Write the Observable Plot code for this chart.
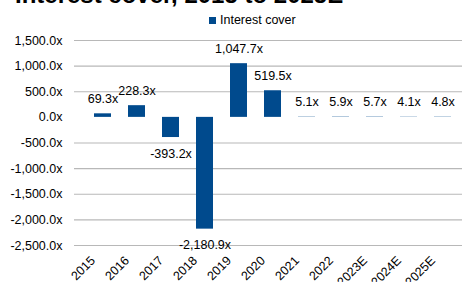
<!DOCTYPE html>
<html><head><meta charset="utf-8">
<script src="https://cdn.jsdelivr.net/npm/d3@7"></script>
<script src="https://cdn.jsdelivr.net/npm/@observablehq/plot@0.6"></script>
<style>
body{margin:0;background:#fff;font-family:"Liberation Sans",Arial,sans-serif;}
#wrap{position:relative;width:462px;height:282px;overflow:hidden;background:#fff;}
#title{position:absolute;left:15px;top:-17px;font-size:24px;font-weight:bold;line-height:24px;white-space:nowrap;color:#000;}
#legend{position:absolute;left:209px;top:13px;font-size:12.5px;line-height:14px;display:flex;align-items:center;color:#000;white-space:nowrap;}
#legend .sw{width:7px;height:7px;background:#004a8d;margin-right:4px;display:inline-block;}
#chart{position:absolute;left:0;top:0;width:470px;}
#chart svg{max-width:none !important;width:470px;height:282px;}
</style></head><body>
<div id="wrap"><div id="chart"></div><div id="title">Interest cover, 2015 to 2025E</div><div id="legend"><span class="sw"></span><span id="lg"></span></div></div>
<script>
const years = ["2015","2016","2017","2018","2019","2020","2021","2022","2023E","2024E","2025E"];
const cover = [69.3, 228.3, -393.2, -2180.9, 1047.7, 519.5, 5.1, 5.9, 5.7, 4.1, 4.8];
const yTicks = [-2500, -2000, -1500, -1000, -500, 0, 500, 1000, 1500];
const seriesName = "Interest cover";

document.getElementById("lg").textContent = seriesName;
const data = years.map((year, i) => ({year, value: cover[i]}));
const loc = d3.formatLocale({decimal: ".", thousands: ",", grouping: [3], currency: ["", ""], minus: "-"});
const fmt = v => loc.format(",.1f")(v) + "x";
const chart = Plot.plot({
  width: 470, height: 282,
  marginTop: 40, marginBottom: 37, marginLeft: 74, marginRight: 0,
  style: {fontFamily: "'Liberation Sans', Arial, sans-serif", fontSize: "12.5px", color: "#000", background: "transparent", overflow: "visible", maxWidth: "none"},
  x: {domain: years, padding: 0.5, label: null},
  y: {domain: [-2500, 1500], label: null},
  marks: [
    Plot.ruleY(yTicks.filter(t => t !== 0), {stroke: "#b8b8b8", strokeWidth: 1.2}),
    Plot.barY(data, {x: "year", y: "value", fill: "#004a8d"}),
    Plot.text(data.filter(d => d.value >= 0), {x: "year", y: "value", text: d => fmt(d.value), dy: -15, fill: "#000"}),
    Plot.text(data.filter(d => d.value < 0), {x: "year", y: "value", text: d => fmt(d.value), dy: 16, fill: "#000"}),
    Plot.axisY({ticks: yTicks, tickSize: 0, tickFormat: fmt, tickPadding: 12, label: null}),
    Plot.axisX({tickSize: 0, tickRotate: -45, tickPadding: 4, dx: -10, dy: 9, label: null})
  ]
});
document.getElementById("chart").appendChild(chart);
</script>
</body></html>
